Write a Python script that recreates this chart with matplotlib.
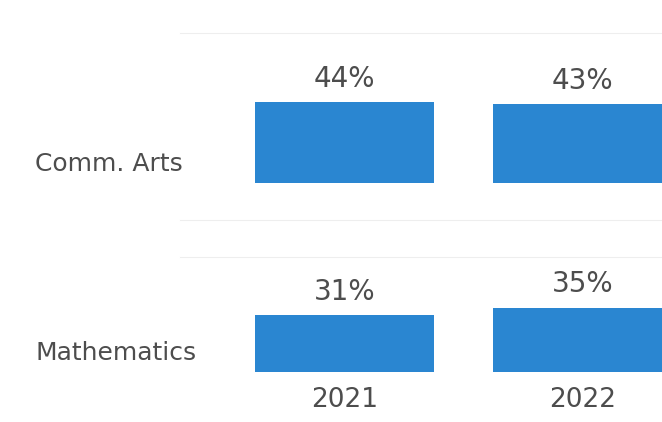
import matplotlib.pyplot as plt

years = ['2021', '2022']
subjects = ['Comm. Arts', 'Mathematics']
comm_arts = [44, 43]
mathematics = [31, 35]

W, H = 662, 422
BLUE = '#2A86D1'
TEXT = '#4d4d4d'
GRID = '#eeeeee'
PX = 1.83  # pixels per percentage point

fig = plt.figure(figsize=(W / 100, H / 100), dpi=100)

# each row: values, baseline / top / bottom of the row panel in pixels from the top
rows = [(comm_arts, 183, 33, 220), (mathematics, 372, 257, 422)]
left = 180
x = list(range(len(years)))

for r, (vals, base, top, bottom) in enumerate(rows):
    ax = fig.add_axes([left / W, (H - bottom) / H, (W - left) / W, (bottom - top) / H])
    ax.set_ylim(-(bottom - base) / PX, (base - top) / PX)
    ax.set_xlim((left - 344.5) / 238, (W - 344.5) / 238)
    ax.bar(x, vals, width=0.752, color=BLUE)
    for xi, v in zip(x, vals):
        ax.annotate(f'{v}%', (xi, v), xytext=(0, 17), textcoords='offset points',
                    ha='center', va='center', fontsize=20, color=TEXT)
    ax.set_xticks([])
    ax.set_yticks([])
    for s in ['left', 'right']:
        ax.spines[s].set_visible(False)
    ax.spines['top'].set_color(GRID)
    ax.spines['bottom'].set_color(GRID)
    if r == len(rows) - 1:
        ax.spines['bottom'].set_visible(False)
        # year labels just under the bottom row's bars
        for xi, yr in zip(x, years):
            ax.annotate(yr, (xi, 0), xytext=(0, -20), textcoords='offset points',
                        ha='center', va='center', fontsize=19, color=TEXT)
    fig.text(35 / W, (H - base + 19) / H, subjects[r], ha='left', va='center',
             fontsize=18, color=TEXT)

fig.savefig('out.png', dpi=100)
